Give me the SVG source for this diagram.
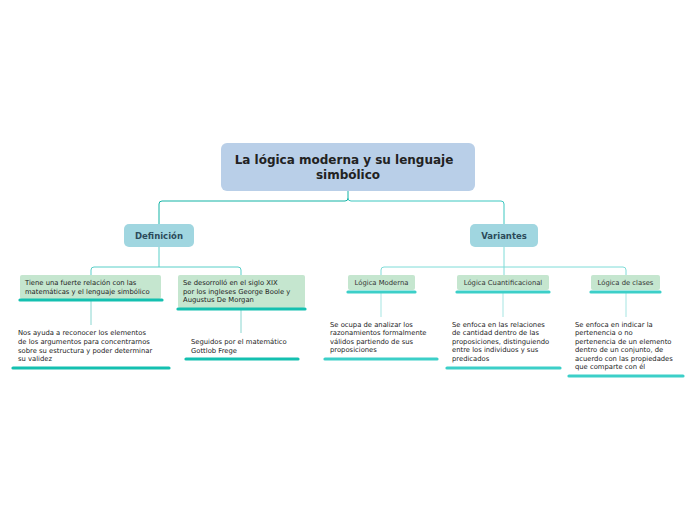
<svg xmlns="http://www.w3.org/2000/svg" width="696" height="520" viewBox="0 0 696 520">
<style>
text{font-family:"DejaVu Sans",Verdana,sans-serif;fill:#222}
.t{font-size:6.8px}
.sub{font-size:6.8px;fill:#333}
.c{fill:none;stroke-width:1}
.bar{stroke-width:3.2;stroke-linecap:round}
</style>
<rect width="696" height="520" fill="#fff"/>
<g id="connectors" class="c">
<path d="M348,191V198Q348,201 345,201H162Q159,201 159,204V224" stroke="#13b3a5"/>
<path d="M348,198Q348,201 351,201H501Q504,201 504,204V224" stroke="#3cc7c0"/>
<path d="M159,247V267M94,267H238Q241,267 241,270V275M94,267Q91,267 91,270V275" stroke="#59cfc8"/>
<path d="M504,247V267M384,267H623Q626,267 626,270V275M384,267Q381,267 381,270V275M504,267V275" stroke="#7fdcd8"/>
<path d="M91,301V325M241,310V333" stroke="#8ad6d0"/>
<path d="M381,293V317M503,293V317M626,293V317" stroke="#a5e5e2"/>
</g>
<g id="root"><rect x="221" y="143" width="254" height="48" rx="6" fill="#b9cfe8"/>
<text x="344" y="164" text-anchor="middle" font-size="12" font-weight="bold">La lógica moderna y su lenguaje</text>
<text x="348" y="179" text-anchor="middle" font-size="12" font-weight="bold">simbólico</text></g>
<g id="definicion"><rect x="124" y="224" width="70" height="23" rx="5" fill="#a0d6e0"/>
<text x="159" y="239" text-anchor="middle" font-size="8.5" font-weight="bold" style="fill:#2c4a5a">Definición</text></g>
<g id="variantes"><rect x="470" y="224" width="68" height="23" rx="5" fill="#a0d6e0"/>
<text x="504" y="239" text-anchor="middle" font-size="8.5" font-weight="bold" style="fill:#2c4a5a">Variantes</text></g>
<g id="n1"><rect x="20" y="275" width="141" height="24" rx="2" fill="#c5e6cf"/>
<text class="t" x="25" y="285">Tiene una fuerte relación con las</text>
<text class="t" x="25" y="294">matemáticas y el lenguaje simbólico</text>
<line class="bar" x1="20" y1="300" x2="162" y2="300" stroke="#14c0b0"/></g>
<g id="n2"><rect x="178" y="275" width="127" height="33" rx="2" fill="#c5e6cf"/>
<text class="t" x="183" y="285">Se desorrolló en el siglo XIX</text>
<text class="t" x="183" y="294">por los ingleses George Boole y</text>
<text class="t" x="183" y="302">Augustus De Morgan</text>
<line class="bar" x1="178" y1="309" x2="305" y2="309" stroke="#14c0b0"/></g>
<g id="n1a">
<text class="t" x="18" y="335">Nos ayuda a reconocer los elementos</text>
<text class="t" x="18" y="344">de los argumentos para concentrarnos</text>
<text class="t" x="18" y="353">sobre su estructura  y poder determinar</text>
<text class="t" x="18" y="361">su validez</text>
<line class="bar" x1="13" y1="368" x2="169" y2="368" stroke="#14c0b0"/></g>
<g id="n2a">
<text class="t" x="191" y="344">Seguidos por el matemático</text>
<text class="t" x="191" y="353">Gottlob Frege</text>
<line class="bar" x1="186" y1="359" x2="298" y2="359" stroke="#14c0b0"/></g>
<g id="lm"><rect x="348" y="275" width="67" height="15" rx="2" fill="#c5e6cf"/>
<text class="sub" x="381.5" y="285" text-anchor="middle">Lógica Moderna</text>
<line class="bar" x1="348" y1="292" x2="415" y2="292" stroke="#3ccfc8"/></g>
<g id="lc"><rect x="457" y="275" width="92" height="15" rx="2" fill="#c5e6cf"/>
<text class="sub" x="503" y="285" text-anchor="middle">Lógica Cuantificacional</text>
<line class="bar" x1="457" y1="292" x2="549" y2="292" stroke="#3ccfc8"/></g>
<g id="ld"><rect x="591" y="275" width="69" height="15" rx="2" fill="#c5e6cf"/>
<text class="sub" x="625.5" y="285" text-anchor="middle">Lógica de clases</text>
<line class="bar" x1="591" y1="292" x2="660" y2="292" stroke="#3ccfc8"/></g>
<g id="lma">
<text class="t" x="330" y="327">Se ocupa de analizar los</text>
<text class="t" x="330" y="335">razonamientos formalmente</text>
<text class="t" x="330" y="344">válidos partiendo de sus</text>
<text class="t" x="330" y="352">proposiciones</text>
<line class="bar" x1="325" y1="359" x2="437" y2="359" stroke="#3ccfc8"/></g>
<g id="lca">
<text class="t" x="452" y="327">Se enfoca en las relaciones</text>
<text class="t" x="452" y="335">de cantidad dentro de las</text>
<text class="t" x="452" y="344">proposiciones, distinguiendo</text>
<text class="t" x="452" y="352">entre los individuos y sus</text>
<text class="t" x="452" y="361">predicados</text>
<line class="bar" x1="447" y1="368" x2="560" y2="368" stroke="#3ccfc8"/></g>
<g id="lda">
<text class="t" x="575" y="327">Se enfoca en indicar la</text>
<text class="t" x="575" y="335">pertenencia o no</text>
<text class="t" x="575" y="344">pertenencia de un elemento</text>
<text class="t" x="575" y="352">dentro de un conjunto, de</text>
<text class="t" x="575" y="361">acuerdo con las propiedades</text>
<text class="t" x="575" y="369">que comparte con él</text>
<line class="bar" x1="569" y1="376" x2="683" y2="376" stroke="#3ccfc8"/></g>
</svg>
